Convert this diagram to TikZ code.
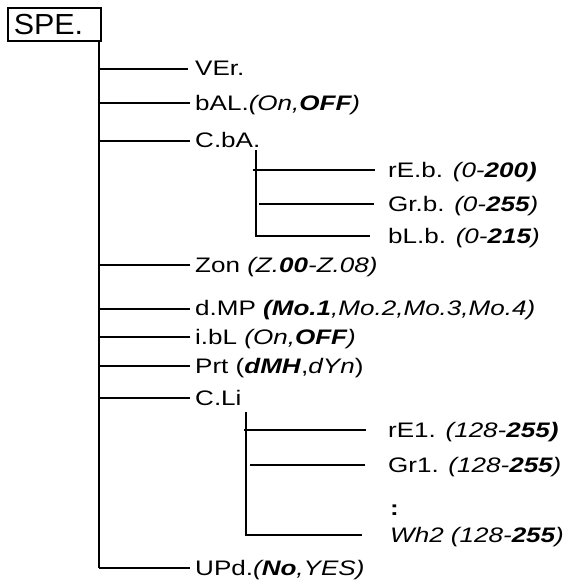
\documentclass[tikz,border=0pt]{standalone}
\usepackage{fontspec}
\setmainfont{Liberation Sans}
\newcommand\wx[1]{\scalebox{1.24}[1]{#1}}
\newcommand\wsp[1]{\scalebox{1.05}[1]{#1}}
\begin{document}
\begin{tikzpicture}[x=1pt,y=-1pt,
  lbl/.style={anchor=base west,inner sep=0pt,font=\fontsize{21}{22}\selectfont},
  conn/.style={line width=2.2pt}]
\useasboundingbox (0,0) rectangle (569,584);
% root box
\node[draw,line width=1.6pt,anchor=north west,inner xsep=6pt,inner ysep=0pt,
      text width=81pt,align=left,minimum height=33pt,text height=21pt,text depth=0pt,
      font=\fontsize{29}{29}\selectfont] (spe) at (7,7) {\wsp{SPE.}};
% main trunk
\coordinate (trtop) at (99,40);
\coordinate (trbot) at (99,568);
\draw[conn] (trtop) -- (trbot);
% main branches
\coordinate (b1) at (99,69);  \coordinate (e1) at (188,69);
\node[lbl] (ver) at (195,75) {\wx{VEr.}};
\coordinate (b2) at (99,103); \coordinate (e2) at (190,103);
\node[lbl] (bal) at (195,110) {\wx{bAL.\textit{(On,\textbf{OFF})}}};
\coordinate (b3) at (99,141); \coordinate (e3) at (190,141);
\node[lbl] (cba) at (195,147) {\wx{C.bA.}};
\coordinate (b4) at (99,265); \coordinate (e4) at (190,265);
\node[lbl] (zon) at (195,272) {\wx{Zon \textit{(Z.\textbf{00}-Z.08)}}};
\coordinate (b5) at (99,309); \coordinate (e5) at (190,309);
\node[lbl] (dmp) at (195,315) {\wx{d.MP \textit{\textbf{(Mo.1},Mo.2,Mo.3,Mo.4)}}};
\coordinate (b6) at (99,337); \coordinate (e6) at (190,337);
\node[lbl] (ibl) at (195,344) {\wx{i.bL \textit{(On,\textbf{OFF})}}};
\coordinate (b7) at (99,366); \coordinate (e7) at (190,366);
\node[lbl] (prt) at (195,373) {\wx{Prt (\textbf{\textit{dMH}},\textit{dYn})}};
\coordinate (b8) at (99,398); \coordinate (e8) at (190,398);
\node[lbl] (cli) at (195,405) {\wx{C.Li}};
\coordinate (e9) at (190,568);
\node[lbl] (upd) at (195,575) {\wx{UPd.\textit{(\textbf{No},YES)}}};
\foreach \i in {1,...,8} \draw[conn] (b\i) -- (e\i);
\draw[conn] (trbot) -- (e9);
% C.bA sub tree
\coordinate (s1top) at (256,150);
\coordinate (s1bot) at (256,236);
\coordinate (s1a) at (253,170); \coordinate (s1ae) at (375,170);
\coordinate (s1b) at (259,204); \coordinate (s1be) at (374,204);
\coordinate (s1ce) at (370,236);
\draw[conn] (s1top) -- (s1bot) -- (s1ce);
\draw[conn] (s1a) -- (s1ae);
\draw[conn] (s1b) -- (s1be);
\node[lbl] (reb) at (388,177) {\wx{rE.b. \textit{(0-\textbf{200)}}}};
\node[lbl] (grb) at (388,211) {\wx{Gr.b. \textit{(0-\textbf{255})}}};
\node[lbl] (blb) at (388,243) {\wx{bL.b. \textit{(0-\textbf{215})}}};
% C.Li sub tree
\coordinate (s2top) at (246,412);
\coordinate (s2bot) at (246,535);
\coordinate (s2a) at (244,430); \coordinate (s2ae) at (366,430);
\coordinate (s2b) at (250,465); \coordinate (s2be) at (365,465);
\coordinate (s2ce) at (362,535);
\draw[conn] (s2top) -- (s2bot) -- (s2ce);
\draw[conn] (s2a) -- (s2ae);
\draw[conn] (s2b) -- (s2be);
\node[lbl] (re1) at (388,437) {\wx{rE1. \textit{(128-\textbf{255)}}}};
\node[lbl] (gr1) at (388,472) {\wx{Gr1. \textit{(128-\textbf{255})}}};
\node[lbl] (dots) at (390,515) {\wx{\textbf{:}}};
\node[lbl] (wh2) at (390,542) {\wx{\textit{Wh2 (128-\textbf{255})}}};
\end{tikzpicture}
\end{document}
